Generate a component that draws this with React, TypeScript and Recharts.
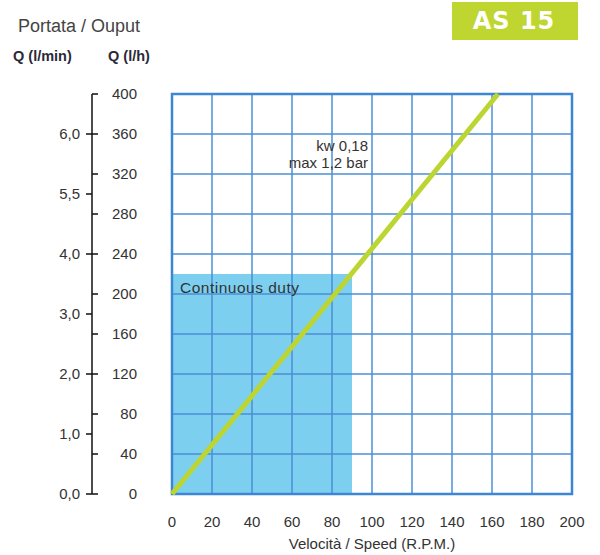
import React from 'react';
import {
  LineChart,
  Line,
  XAxis,
  YAxis,
  CartesianGrid,
  ReferenceArea,
  ReferenceLine,
} from 'recharts';

// speed (rpm) vs output (l/h)
const speedRpm = [0, 163];
const outputLh = [0, 400];

const rpmTicks = [0, 20, 40, 60, 80, 100, 120, 140, 160, 180, 200];
const lhTicks = [0, 40, 80, 120, 160, 200, 240, 280, 320, 360, 400];
const lminTicks = [0, 1, 2, 3, 4, 5, 6];
const lminLabels = ['0,0', '1,0', '2,0', '3,0', '4,0', '5,5', '6,0'];

// continuous duty zone
const dutyMaxRpm = 90;
const dutyMaxLh = 220;

const lineData = speedRpm.map((rpm, i) => ({ rpm, q: outputLh[i] }));

// one scale (l/h) carries both sets of ticks; l/min is placed at value * 60
const axisTicks = Array.from(new Set([...lhTicks, ...lminTicks.map((v) => v * 60)])).sort((a, b) => a - b);

const FONT = '"Liberation Sans", Arial, sans-serif';
const TEXT = '#333';
const GRID = '#4b8fd6';

const DualTick = (props: any) => {
  const { x, y, payload } = props;
  const v = payload.value;
  const lh = lhTicks.includes(v);
  const mi = lminTicks.indexOf(v / 60);
  const axisX = x - 45;
  return (
    <g>
      {lh && (
        <>
          <line x1={axisX} x2={axisX + 6} y1={y} y2={y} stroke="#111" strokeWidth={1.5} />
          <text x={x} y={y} dy={5} textAnchor="end" fontSize={15} fill={TEXT} fontFamily={FONT}>
            {v}
          </text>
        </>
      )}
      {mi >= 0 && (
        <>
          <line x1={axisX - 6} x2={axisX} y1={y} y2={y} stroke="#111" strokeWidth={1.5} />
          <text x={axisX - 12} y={y} dy={5} textAnchor="end" fontSize={15} fill={TEXT} fontFamily={FONT}>
            {lminLabels[mi]}
          </text>
        </>
      )}
    </g>
  );
};

export default function App() {
  return (
    <div style={{ position: 'absolute', left: 0, top: 0, width: 600, height: 555, background: '#fff', fontFamily: FONT }}>
      <svg width={600} height={555} style={{ position: 'absolute', left: 0, top: 0 }}>
        <text x={18} y={32} fontSize={18} fill="#444">Portata / Ouput</text>
        <text x={13} y={61} fontSize={14.5} fontWeight="bold" fill="#2a2a38">Q (l/min)</text>
        <text x={108} y={61} fontSize={14.5} fontWeight="bold" fill="#2a2a38">Q (l/h)</text>
        <rect x={452} y={2} width={126} height={38} fill="#bed62f" />
        <text x={514} y={29} fontSize={24} fontWeight="bold" fill="#fff" textAnchor="middle" fontFamily='"DejaVu Sans", sans-serif' letterSpacing={1}>AS 15</text>
        <line x1={92} x2={92} y1={94} y2={494} stroke="#111" strokeWidth={1.5} />
      </svg>
      <div style={{ position: 'absolute', left: 0, top: 0 }}>
        <LineChart
          width={600}
          height={555}
          data={lineData}
          margin={{ top: 94, right: 28, bottom: 0, left: 0 }}
        >
          <ReferenceArea
            yAxisId="h"
            x1={0}
            x2={dutyMaxRpm}
            y1={0}
            y2={dutyMaxLh}
            fill="#7dcff0"
            fillOpacity={1}
            stroke="none"
            zIndex={50}
            label={{ value: 'Continuous duty', position: 'insideTopLeft', offset: 8, fontSize: 15.5, letterSpacing: 0.5, fill: TEXT }}
          />
          <CartesianGrid yAxisId="h" horizontal={false} stroke={GRID} strokeWidth={1.5} zIndex={60} />
          {lhTicks.map((t) => (
            <ReferenceLine key={t} yAxisId="h" y={t} stroke={GRID} strokeWidth={1.5} zIndex={60} />
          ))}
          <ReferenceArea
            yAxisId="h"
            x1={0}
            x2={200}
            y1={0}
            y2={400}
            fill="none"
            stroke="#3d86d3"
            strokeWidth={2.5}
            zIndex={70}
          />
          <XAxis
            dataKey="rpm"
            type="number"
            domain={[0, 200]}
            ticks={rpmTicks}
            interval={0}
            axisLine={false}
            tickLine={false}
            tickSize={0}
            tickMargin={22}
            height={61}
            tick={{ fontSize: 15, fill: TEXT }}
            label={{ value: 'Velocità / Speed (R.P.M.)', position: 'insideBottom', offset: 6, fontSize: 15, fill: TEXT }}
          />
          <YAxis
            yAxisId="h"
            orientation="left"
            type="number"
            domain={[0, 400]}
            ticks={axisTicks}
            interval={0}
            width={172}
            axisLine={false}
            tickLine={false}
            tickSize={0}
            tickMargin={35}
            tick={<DualTick />}
          />
          <Line
            yAxisId="h"
            dataKey="q"
            stroke="#bcd531"
            strokeWidth={5}
            dot={false}
            isAnimationActive={false}
            zIndex={400}
          />
        </LineChart>
      </div>
      <svg width={600} height={555} style={{ position: 'absolute', left: 0, top: 0, pointerEvents: 'none' }}>
        <text x={368} y={151} fontSize={15} fill={TEXT} textAnchor="end">kw 0,18</text>
        <text x={368} y={168} fontSize={15} fill={TEXT} textAnchor="end">max 1,2 bar</text>
      </svg>
    </div>
  );
}
